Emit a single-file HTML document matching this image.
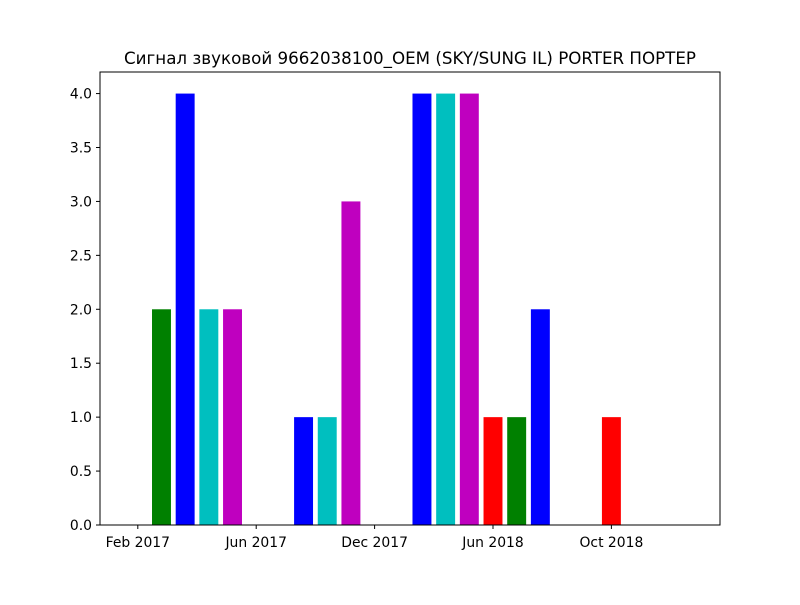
<!DOCTYPE html>
<html><head><meta charset="utf-8"><style>
body{margin:0;background:#fff;}
svg text{font-family:"DejaVu Sans","Liberation Sans",sans-serif;}
</style></head><body>
<svg id="chart" width="800" height="600" xmlns="http://www.w3.org/2000/svg">
<rect width="800" height="600" fill="#fff"/>
<text x="410" y="64" font-size="16.7" text-anchor="middle">Сигнал звуковой 9662038100_OEM (SKY/SUNG IL) PORTER ПОРТЕР</text>
<g id="bars"></g>
<g id="axes"></g>
</svg>
<script>
const values = [0,2,4,2,2,0,0,1,1,3,0,0,4,4,4,1,1,2,0,0,1,0,0,0];
const colors = ['#ff0000','#008000','#0000ff','#00bfbf','#bf00bf'];
const xTickLabels = ['Feb 2017','Jun 2017','Dec 2017','Jun 2018','Oct 2018'];
const xTickIdx = [0,5,10,15,20];
const yTicks = [0,0.5,1,1.5,2,2.5,3,3.5,4];

const L=100,R=720,T=72,B=525;
const unit=23.68, x0=137.8;
const xmin=(L-x0)/unit,xmax=(R-x0)/unit,ymax=4.2;
const NS='http://www.w3.org/2000/svg';
function sx(i){return L+(i-xmin)/(xmax-xmin)*(R-L);}
function sy(v){return B-v/ymax*(B-T);}
function mk(tag,attrs,parent){const e=document.createElementNS(NS,tag);for(const k in attrs)e.setAttribute(k,attrs[k]);parent.appendChild(e);return e;}
const bars=document.getElementById('bars'),axes=document.getElementById('axes');
const bw=0.8*(sx(1)-sx(0));
values.forEach((v,i)=>{
  if(v<=0)return;
  const r=mk('rect',{x:sx(i)-bw/2,y:sy(v),width:bw,height:sy(0)-sy(v),fill:colors[i%5]},bars);
  
  
});
const frame=mk('rect',{x:L,y:T,width:R-L,height:B-T,fill:'none',stroke:'#000','stroke-width':1},axes);


yTicks.forEach(t=>{
  const y=sy(t);
  mk('line',{x1:L-4,x2:L,y1:y,y2:y,stroke:'#000'},axes);
  const tx=mk('text',{x:L-8,y:y+5,'font-size':13.9,'text-anchor':'end'},axes);
  tx.textContent=t.toFixed(1);
  
  
});
xTickIdx.forEach((k,j)=>{
  const x=sx(k);
  mk('line',{x1:x,x2:x,y1:B,y2:B+4,stroke:'#000'},axes);
  const tx=mk('text',{x:x,y:B+22,'font-size':13.9,'text-anchor':'middle'},axes);
  tx.textContent=xTickLabels[j];
  
  
});
</script>
</body></html>
